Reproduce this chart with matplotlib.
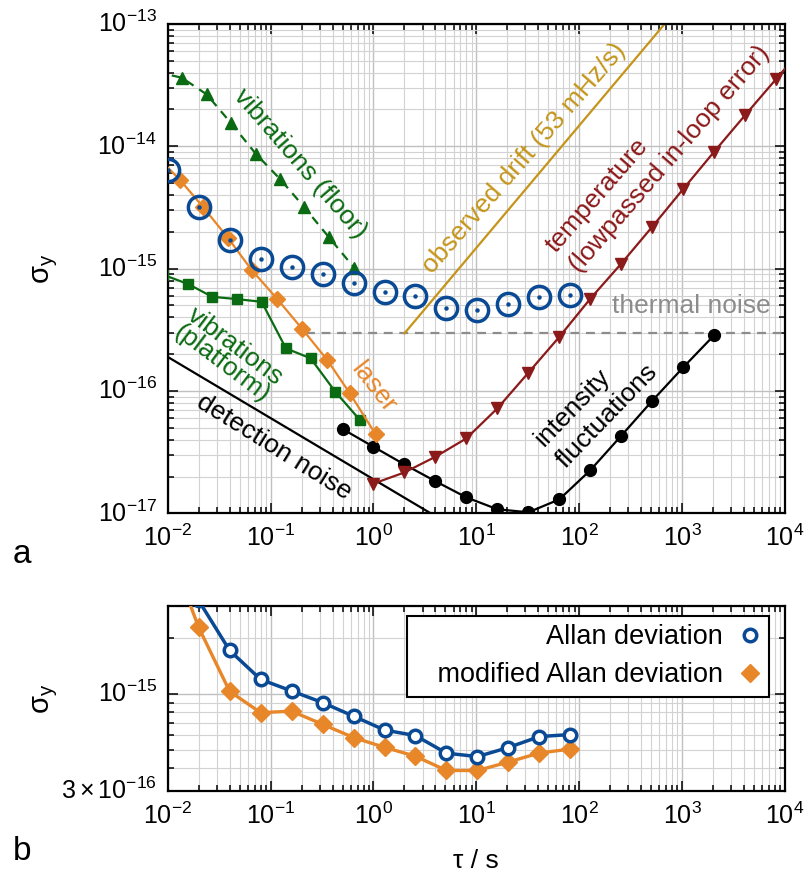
import matplotlib
matplotlib.use('Agg')
import matplotlib.pyplot as plt
from matplotlib.lines import Line2D
from matplotlib.ticker import LogLocator, NullFormatter, FixedLocator

plt.rcParams['font.family'] = ['Liberation Sans', 'DejaVu Sans']
plt.rcParams['mathtext.fontset'] = 'custom'
plt.rcParams['mathtext.rm'] = 'Liberation Sans'
plt.rcParams['mathtext.it'] = 'Liberation Sans:italic'
plt.rcParams['mathtext.bf'] = 'Liberation Sans:bold'
plt.rcParams['axes.unicode_minus'] = False

# Allan deviation (measured)
tau_adev = [0.01, 0.02, 0.04, 0.08, 0.16, 0.32, 0.64, 1.28, 2.56, 5.12, 10.24, 20.48, 40.96, 81.92]
adev = [6.4e-15, 3.2e-15, 1.72e-15, 1.2e-15, 1.04e-15, 9.0e-16, 7.6e-16, 6.4e-16,
        5.97e-16, 4.8e-16, 4.6e-16, 5.15e-16, 5.9e-16, 6.05e-16]
mdev = [6.4e-15, 2.29e-15, 1.035e-15, 7.94e-16, 8.09e-16, 6.87e-16, 5.83e-16, 5.16e-16,
        4.62e-16, 3.87e-16, 3.87e-16, 4.30e-16, 4.81e-16, 5.05e-16]

# laser
tau_laser = [0.0076, 0.0132, 0.0222, 0.0388, 0.0655, 0.115, 0.202, 0.356, 0.59, 1.05]
sig_laser = [8.5e-15, 5.3e-15, 3.17e-15, 1.77e-15, 9.75e-16, 5.7e-16, 3.23e-16, 1.79e-16, 9.55e-17, 4.42e-17]

# vibrations (platform)
tau_vplat = [0.0091, 0.01585, 0.0271, 0.0469, 0.0819, 0.141, 0.245, 0.426, 0.74]
sig_vplat = [8.9e-16, 7.48e-16, 5.89e-16, 5.64e-16, 5.36e-16, 2.23e-16, 1.85e-16, 9.85e-17, 5.78e-17]

# vibrations (floor)
tau_vfloor = [0.0078, 0.01368, 0.0239, 0.0409, 0.0721, 0.1234, 0.211, 0.370, 0.647]
sig_vfloor = [4.05e-14, 3.64e-14, 2.66e-14, 1.56e-14, 8.65e-15, 5.41e-15, 3.2e-15, 1.80e-15, 1.02e-15]

# intensity fluctuations
tau_int = [0.5, 1, 2, 4, 8, 16, 32, 64, 128, 256, 512, 1024, 2048]
sig_int = [4.89e-17, 3.50e-17, 2.51e-17, 1.83e-17, 1.35e-17, 1.08e-17, 1.02e-17, 1.30e-17,
           2.25e-17, 4.31e-17, 8.32e-17, 1.56e-16, 2.86e-16]

# temperature (lowpassed in-loop error)
tau_temp = [1, 2, 4, 8, 16, 32, 64, 128, 256, 512, 1024, 2048, 4096, 8192, 16384]
sig_temp = [1.75e-17, 2.16e-17, 2.90e-17, 4.10e-17, 7.21e-17, 1.41e-16, 2.77e-16, 5.68e-16,
            1.10e-15, 2.20e-15, 4.48e-15, 9.04e-15, 1.80e-14, 3.55e-14, 7.0e-14]

# detection noise, drift, thermal noise
tau_det = [0.01, 10]
sig_det = [1.9e-16, 6.0e-18]
tau_drift = [2, 1000]
sig_drift = [2.96e-16, 1.48e-13]
tau_thermal = [0.22, 1e4]
sig_thermal = [2.96e-16, 2.96e-16]

blue = '#0a4a94'
orange = '#e8862a'
green = '#0b6b12'
darkred = '#8b1a1a'
gold = '#c4951a'
gray = '#8c8c8c'

fig = plt.figure(figsize=(8.07, 8.72), dpi=100)
ax = fig.add_axes([0.2078, 0.4113, 0.765, 0.5612])
axb = fig.add_axes([0.2078, 0.0929, 0.765, 0.2125])


def style_axes(a):
    a.set_xscale('log')
    a.set_yscale('log')
    a.set_xlim(1e-2, 1e4)
    a.grid(True, which='major', color='#c0c0c0', lw=1.0)
    a.grid(True, which='minor', color='#d2d2d2', lw=0.8)
    a.set_axisbelow(True)
    a.tick_params(which='both', direction='in', top=True, right=True, labelsize=18, width=1.1)
    a.tick_params(which='major', length=7, pad=8)
    a.tick_params(which='minor', length=4)
    for s in a.spines.values():
        s.set_linewidth(1.6)
    a.xaxis.set_major_locator(LogLocator(base=10, numticks=20))
    a.xaxis.set_minor_locator(LogLocator(base=10, subs=range(2, 10), numticks=100))
    a.xaxis.set_minor_formatter(NullFormatter())
    a.yaxis.set_label_coords(-0.174, 0.5)


style_axes(ax)
style_axes(axb)

# ---- panel a ----
ax.set_ylim(1e-17, 1e-13)
ax.yaxis.set_major_locator(LogLocator(base=10, numticks=20))
ax.yaxis.set_minor_locator(LogLocator(base=10, subs=range(2, 10), numticks=100))
ax.yaxis.set_minor_formatter(NullFormatter())

ax.plot(tau_det, sig_det, color='black', lw=1.6, zorder=2)
ax.plot(tau_thermal, sig_thermal, color=gray, lw=1.6, ls='--', dashes=(4, 3), zorder=2)
ax.plot(tau_drift, sig_drift, color=gold, lw=1.6, zorder=2)
ax.plot(tau_int, sig_int, color='black', lw=1.6, marker='o', ms=8.5, zorder=3)
ax.plot(tau_temp, sig_temp, color=darkred, lw=1.6, marker='v', ms=9, zorder=3)
ax.plot(tau_vplat, sig_vplat, color=green, lw=1.6, marker='s', ms=7.5, zorder=3)
ax.plot(tau_laser, sig_laser, color=orange, lw=1.6, marker='D', ms=8, zorder=3)
ax.plot(tau_vfloor, sig_vfloor, color=green, lw=1.6, ls='--', dashes=(4, 3), marker='^', ms=9, zorder=3)
ax.plot(tau_adev, adev, ls='none', marker='o', ms=16, mfc='none', mec=blue, mew=2.5, zorder=5)
ax.plot(tau_adev, adev, ls='none', marker='o', ms=2.2, color=blue, zorder=5)

ax.set_ylabel(r'$\mathrm{\sigma_y}$', fontsize=21)

kw = dict(fontsize=19, ha='center', va='center', rotation_mode='anchor')
ax.text(0.196, 7.26e-15, 'vibrations (floor)', color=green, rotation=-49, **kw)
ax.text(0.0388, 1.97e-16, 'vibrations\n(platform)', color=green, rotation=-37, linespacing=0.9,
        multialignment='center', **kw)
ax.text(0.995, 1.08e-16, 'laser', color=orange, rotation=-52, **kw)
ax.text(0.108, 3.46e-17, 'detection noise', color='black', rotation=-32, **kw)
ax.text(29, 7.98e-15, 'observed drift (53 mHz/s)', color=gold, rotation=49, **kw)
ax.text(582, 9.5e-15, 'temperature\n(lowpassed in-loop error)', color=darkred, rotation=49,
        linespacing=1.3, multialignment='left', **kw)
ax.text(1236, 4.94e-16, 'thermal noise', color=gray, rotation=0, **kw)
ax.text(147, 7.66e-17, 'intensity\nfluctuations', color='black', rotation=46, linespacing=1.35,
        multialignment='left', **kw)

# ---- panel b ----
axb.set_ylim(3e-16, 3e-15)
axb.yaxis.set_major_locator(FixedLocator([3e-16, 1e-15]))
axb.yaxis.set_major_formatter(plt.FixedFormatter([r'$\mathdefault{3\times10^{-16}}$',
                                                  r'$\mathdefault{10^{-15}}$']))
axb.yaxis.set_minor_locator(LogLocator(base=10, subs=range(2, 10), numticks=100))
axb.yaxis.set_minor_formatter(NullFormatter())

axb.plot(tau_adev, mdev, color=orange, lw=2.4, marker='D', ms=9, zorder=3)
axb.plot(tau_adev, adev, color=blue, lw=2.5, marker='o', ms=9, mfc='white', mec=blue, mew=2.5, zorder=4)

axb.set_ylabel(r'$\mathrm{\sigma_y}$', fontsize=21)
axb.set_xlabel('τ / s', fontsize=19)
axb.xaxis.set_label_coords(0.5, -0.315)

handles = [Line2D([], [], ls='none', marker='o', ms=9, mfc='white', mec=blue, mew=2.5),
           Line2D([], [], ls='none', marker='D', ms=9, color=orange)]
leg = axb.legend(handles, ['Allan deviation', '   modified Allan deviation'], loc='upper right',
                 bbox_to_anchor=(0.974, 0.944), borderaxespad=0, markerfirst=False,
                 fancybox=False, edgecolor='black', framealpha=1, fontsize=19.5,
                 handlelength=0.8, handletextpad=0.6, borderpad=0.3, labelspacing=0.45)
leg.get_frame().set_linewidth(1.5)

# centre y tick labels on their ticks, as in the original
fig.canvas.draw()
for a in (ax, axb):
    for lbl in a.get_yticklabels():
        lbl.set_verticalalignment('center')

fig.text(22 / 807, 1 - 554 / 872, 'a', fontsize=24, ha='center', va='center')
fig.text(22 / 807, 1 - 851 / 872, 'b', fontsize=24, ha='center', va='center')

fig.savefig('out.png', dpi=100)
